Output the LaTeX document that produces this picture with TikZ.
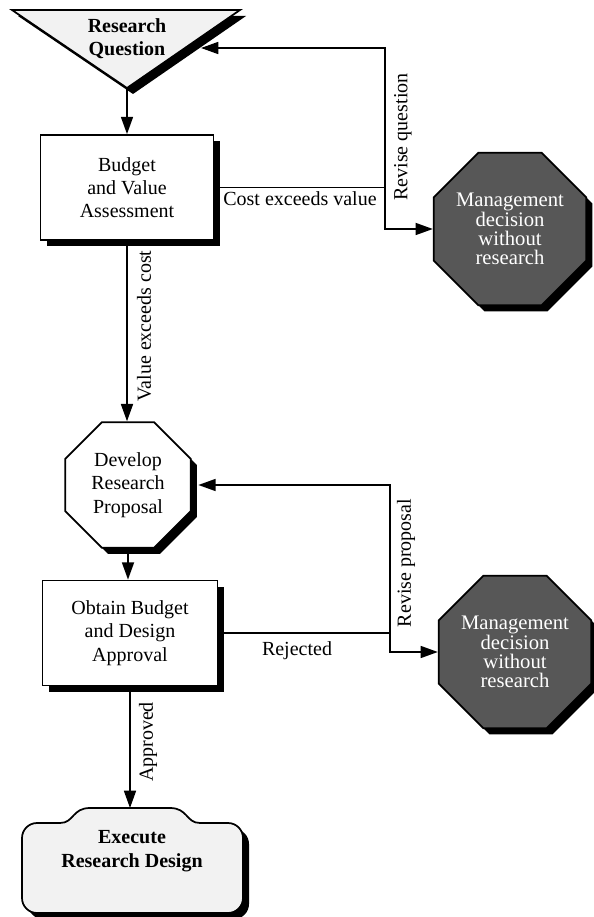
\documentclass[tikz,border=0pt]{standalone}
\usepackage{fontspec}
\setmainfont{Liberation Serif}
\usetikzlibrary{shapes.geometric,arrows.meta,shadows}
\begin{document}
\begin{tikzpicture}[x=0.75pt,y=-0.75pt,
  font=\fontsize{15}{17.5}\selectfont,
  every node/.style={align=center},
  outline/.style={draw=black, line width=1.3pt},
  shade/.style={drop shadow={shadow xshift=4.5pt, shadow yshift=-4.5pt, fill=black, opacity=1}},
  procbox/.style={outline, shade, fill=white, rectangle, inner sep=0pt},
  octo/.style={outline, shade, regular polygon, regular polygon sides=8, inner sep=0pt},
  darkocto/.style={octo, fill=black!66, text=white, font=\fontsize{15.5}{14.5}\selectfont},
  flow/.style={line width=1.3pt, -{Triangle[length=13pt,width=9pt]}},
  link/.style={line width=1.3pt},
  tag/.style={inner sep=1pt},
  boldtext/.style={font=\fontsize{15}{17.5}\selectfont\bfseries}
]
\useasboundingbox (0,0) rectangle (593,917);

% start: research question (inverted triangle)
\path[outline, shade, fill=black!5] (12,10) -- (240,10) -- (127,88) -- cycle;
\node[boldtext] (rq) at (127,39) {Research\\Question};
\coordinate (rqtip) at (127,88);
\coordinate (rqside) at (201,48);

% budget and value assessment
\node[procbox, minimum width=129.75pt, minimum height=78.75pt] (bva) at (127,187.5)
  {Budget\\and Value\\Assessment};
\draw[flow] (rqtip) -- (bva.north);

% first exit: management decision without research
\node[darkocto, minimum size=119pt] (m1) at (510,229)
  {Management\\decision\\without\\research};
\coordinate (j1) at (385,187.5);
\draw[link] (bva.east) -- (j1);
\draw[flow] (j1) |- (rqside);
\draw[flow] (j1) |- (m1.west);
\node[tag] at (300,199) {Cost exceeds value};
\node[tag, rotate=90] at (403,137) {Revise question};

% develop research proposal
\node[octo, fill=white, minimum size=102pt] (drp) at (128,485)
  {Develop\\Research\\Proposal};
\draw[flow] (bva.south) -- (bva.south |- drp.north);
\node[tag, rotate=90] at (144,326) {Value exceeds cost};

% obtain budget and design approval
\node[procbox, minimum width=131.25pt, minimum height=78.75pt] (oba) at (130,633)
  {Obtain Budget\\and Design\\Approval};
\draw[flow] (drp.south) -- (drp.south |- oba.north);

% second exit: management decision without research
\node[darkocto, minimum size=120pt] (m3) at (515,652)
  {Management\\decision\\without\\research};
\coordinate (j2) at (390,633);
\draw[link] (oba.east) -- (j2);
\draw[flow] (j2) |- ([xshift=5pt]drp.east);
\draw[flow] (j2) |- (m3.west);
\node[tag] at (297,651) {Rejected};
\node[tag, rotate=90] at (406,563) {Revise proposal};

% terminal: execute research design (rounded box with a raised top)
\path[outline, shade, fill=black!5]
  (22,898) -- (22,838) arc[start angle=180, end angle=270, radius=15]
  -- (60,823) .. controls (74,823) and (72,808) .. (90,808)
  -- (170,808) .. controls (188,808) and (186,823) .. (200,823)
  -- (228,823) arc[start angle=270, end angle=360, radius=15]
  -- (243,898) arc[start angle=0, end angle=90, radius=15]
  -- (37,913) arc[start angle=90, end angle=180, radius=15] -- cycle;
\coordinate (edtop) at (132,808);
\node[boldtext] (ed) at (132,851) {Execute\\Research Design};
\draw[flow] (oba.south) -- (oba.south |- edtop);
\node[tag, rotate=90] at (148,742) {Approved};
\end{tikzpicture}
\end{document}
